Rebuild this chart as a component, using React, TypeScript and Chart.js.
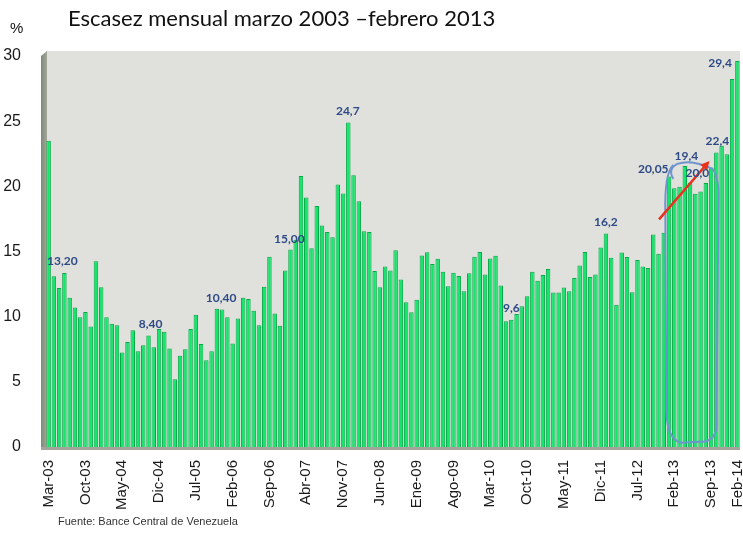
import React, { useEffect, useRef } from "react";
import { Chart, registerables } from "chart.js";

Chart.register(...registerables);

const MONTH_NAMES = ["Ene", "Feb", "Mar", "Abr", "May", "Jun", "Jul", "Ago", "Sep", "Oct", "Nov", "Dic"];
const START_YEAR = 2003;
const START_MONTH = 2; // Mar
const N_MONTHS = 132; // Mar-03 .. Feb-14

const CATEGORIES: string[] = [];
for (let i = 0; i < N_MONTHS; i++) {
  const m = (START_MONTH + i) % 12;
  const y = START_YEAR + Math.floor((START_MONTH + i) / 12);
  CATEGORIES.push(MONTH_NAMES[m] + "-" + String(y % 100).padStart(2, "0"));
}

const TICK_LABELS = [
  "Mar-03", "Oct-03", "May-04", "Dic-04", "Jul-05", "Feb-06", "Sep-06", "Abr-07", "Nov-07", "Jun-08",
  "Ene-09", "Ago-09", "Mar-10", "Oct-10", "May-11", "Dic-11", "Jul-12", "Feb-13", "Sep-13", "Feb-14",
];

const ESCASEZ = [
  23.5, 13.1, 12.2, 13.35, 11.45, 10.7, 9.95, 10.35, 9.25, 14.25,
  12.25, 9.95, 9.45, 9.35, 7.25, 8.05, 8.95, 7.35, 7.8, 8.55,
  7.65, 9.05, 8.85, 7.55, 5.2, 7.0, 7.5, 9.05, 10.15, 7.9,
  6.65, 7.35, 10.6, 10.55, 9.95, 7.95, 9.85, 11.45, 11.35, 10.45,
  9.35, 12.3, 14.6, 10.25, 9.3, 13.55, 15.15, 15.9, 20.8, 19.15,
  15.25, 18.5, 17.0, 16.5, 16.1, 20.15, 19.45, 24.9, 20.85, 18.85,
  16.55, 16.5, 13.5, 12.25, 13.85, 13.55, 15.1, 12.85, 11.1, 10.33,
  11.3, 14.7, 14.95, 14.05, 14.45, 13.45, 12.33, 13.36, 13.12, 11.95,
  13.33, 14.6, 14.97, 13.23, 14.47, 14.67, 12.4, 9.64, 9.77, 10.2,
  10.8, 11.56, 13.45, 12.75, 13.2, 13.65, 11.85, 11.85, 12.23, 11.95,
  12.97, 13.92, 14.96, 13.05, 13.23, 15.3, 16.38, 14.53, 10.92, 14.93,
  14.57, 11.88, 14.35, 13.85, 13.73, 16.3, 14.83, 16.44, 20.76, 19.86,
  19.96, 21.56, 20.28, 19.44, 19.6, 20.25, 21.44, 22.6, 23.12, 22.46,
  28.24, 29.62,
];

const Y_TICKS = [0, 5, 10, 15, 20, 25, 30];

// Annotated values (text), anchored at category index / value
const ANNOT_TEXT = ["13,20", "8,40", "10,40", "15,00", "24,7", "9,6", "16,2", "20,05", "19,4", "20,0", "22,4", "29,4"];
const ANNOT_IDX = [2.6, 19.4, 32.8, 45.8, 56.9, 88, 106, 115, 121.3, 123.4, 127.2, 127.7];
const ANNOT_VAL = [14.25, 9.46, 11.4, 15.97, 25.8, 10.67, 17.25, 21.3, 22.33, 21.05, 23.5, 29.46];

// Hand-drawn highlight (loop) and arrow, in category index / value units
const LOOP_IDX = [117.3, 127.4];
const LOOP_VAL = [21.8, 0.4];
const ARROW_IDX = [116.1, 125.7];
const ARROW_VAL = [17.46, 21.95];

const TITLE = "Escasez mensual marzo 2003 \u2013febrero 2013";
const SOURCE = "Fuente: Bance Central de Venezuela";

export default function App() {
  const ref = useRef<HTMLCanvasElement | null>(null);

  useEffect(() => {
    const canvas = ref.current;
    if (!canvas) return;

    const xAt = (chart: any, idx: number) => {
      const xs = chart.scales.x;
      const p0 = xs.getPixelForValue(0);
      const p1 = xs.getPixelForValue(1);
      return p0 + (p1 - p0) * idx;
    };
    const yAt = (chart: any, v: number) => chart.scales.y.getPixelForValue(v);

    const decor = {
      id: "decor",
      beforeDraw(chart: any) {
        const { ctx, chartArea: a } = chart;
        ctx.save();
        const top = a.top - 5;
        // plot background
        ctx.fillStyle = "#e0e0dc";
        ctx.fillRect(a.left, top, a.right - a.left, a.bottom - top);
        // left 3D wall
        const g = ctx.createLinearGradient(a.left - 5, 0, a.left + 2, 0);
        g.addColorStop(0, "#7f8a78");
        g.addColorStop(1, "#a9ad9f");
        ctx.fillStyle = g;
        ctx.beginPath();
        ctx.moveTo(a.left - 5, top + 5);
        ctx.lineTo(a.left + 1, top);
        ctx.lineTo(a.left + 1, a.bottom);
        ctx.lineTo(a.left - 5, a.bottom + 2);
        ctx.closePath();
        ctx.fill();
        // floor
        ctx.fillStyle = "#a4a49c";
        ctx.fillRect(a.left - 5, a.bottom, a.right - a.left + 5, 3);
        // title
        ctx.fillStyle = "#111";
        ctx.textBaseline = "middle";
        ctx.textAlign = "left";
        ctx.font = "22px Lato, 'Open Sans', sans-serif";
        ctx.fillText(TITLE, 68, 19);
        ctx.font = "15px 'Liberation Sans', Arial, sans-serif";
        ctx.fillText("%", 10, 29);
        ctx.font = "11px 'Liberation Sans', Arial, sans-serif";
        ctx.fillStyle = "#333";
        ctx.fillText(SOURCE, 58, 522);
        ctx.restore();
      },
      afterDatasetsDraw(chart: any) {
        const { ctx } = chart;
        ctx.save();
        // loop
        const l = xAt(chart, LOOP_IDX[0]);
        const r = xAt(chart, LOOP_IDX[1]);
        const t = yAt(chart, LOOP_VAL[0]);
        const b = yAt(chart, LOOP_VAL[1]);
        ctx.strokeStyle = "#6f95cf";
        ctx.lineWidth = 2;
        ctx.beginPath();
        ctx.moveTo(l + 8, t + 16);
        ctx.quadraticCurveTo(l + 2, t + 6, l + 12, t + 1);
        ctx.quadraticCurveTo((l + r) / 2, t - 4, r - 6, t + 6);
        ctx.quadraticCurveTo(r + 1, t + 14, r, t + 40);
        ctx.lineTo(r - 2, b - 14);
        ctx.quadraticCurveTo(r - 4, b, r - 18, b);
        ctx.lineTo(l + 16, b + 1);
        ctx.quadraticCurveTo(l + 2, b - 2, l + 1, b - 30);
        ctx.lineTo(l, t + 50);
        ctx.quadraticCurveTo(l - 1, t + 10, l + 8, t + 2);
        ctx.stroke();
        // arrow
        const x1 = xAt(chart, ARROW_IDX[0]);
        const y1 = yAt(chart, ARROW_VAL[0]);
        const x2 = xAt(chart, ARROW_IDX[1]);
        const y2 = yAt(chart, ARROW_VAL[1]);
        const ang = Math.atan2(y2 - y1, x2 - x1);
        ctx.strokeStyle = "#e8321e";
        ctx.fillStyle = "#e8321e";
        ctx.lineWidth = 2.5;
        ctx.beginPath();
        ctx.moveTo(x1, y1);
        ctx.lineTo(x2 - 6 * Math.cos(ang), y2 - 6 * Math.sin(ang));
        ctx.stroke();
        ctx.beginPath();
        ctx.moveTo(x2, y2);
        ctx.lineTo(x2 - 9 * Math.cos(ang) + 4.5 * Math.sin(ang), y2 - 9 * Math.sin(ang) - 4.5 * Math.cos(ang));
        ctx.lineTo(x2 - 9 * Math.cos(ang) - 4.5 * Math.sin(ang), y2 - 9 * Math.sin(ang) + 4.5 * Math.cos(ang));
        ctx.closePath();
        ctx.fill();
        // value annotations
        ctx.font = "bold 12px Lato, 'Open Sans', sans-serif";
        ctx.fillStyle = "#2e4a86";
        ctx.textAlign = "center";
        ctx.textBaseline = "middle";
        for (let i = 0; i < ANNOT_TEXT.length; i++) {
          ctx.fillText(ANNOT_TEXT[i], xAt(chart, ANNOT_IDX[i]), yAt(chart, ANNOT_VAL[i]));
        }
        ctx.restore();
      },
    };

    const tickSet = new Set(TICK_LABELS);

    const chart = new Chart(canvas, {
      type: "bar",
      data: {
        labels: CATEGORIES,
        datasets: [
          {
            data: ESCASEZ,
            backgroundColor: "#14e56b",
            borderColor: "#08a848",
            borderWidth: 1,
            barPercentage: 0.85,
            categoryPercentage: 1,
          },
        ],
      },
      options: {
        animation: false,
        responsive: false,
        maintainAspectRatio: false,
        layout: { padding: { top: 56, right: 3, left: 0, bottom: 0 } },
        plugins: { legend: { display: false }, tooltip: { enabled: false }, title: { display: false } },
        scales: {
          x: {
            type: "category",
            offset: true,
            grid: { display: false },
            border: { display: false },
            afterFit: (s: any) => {
              s.height = 86;
              s.paddingLeft = 0;
              s.paddingRight = 0;
            },
            ticks: {
              autoSkip: false,
              maxRotation: 90,
              minRotation: 90,
              padding: 5,
              color: "#1a1a1a",
              font: { family: "'Liberation Sans', Arial, sans-serif", size: 15 },
              callback: (_v: any, i: number) => (tickSet.has(CATEGORIES[i]) ? CATEGORIES[i] : null),
            },
          },
          y: {
            min: 0,
            max: 30,
            grid: { display: false },
            border: { display: false },
            afterFit: (s: any) => {
              s.width = 46;
              s.paddingTop = 0;
              s.paddingBottom = 0;
            },
            afterBuildTicks: (s: any) => {
              s.ticks = Y_TICKS.map((v) => ({ value: v }));
            },
            ticks: {
              padding: 17,
              color: "#1a1a1a",
              font: { family: "'Liberation Sans', Arial, sans-serif", size: 16 },
            },
          },
        },
      },
      plugins: [decor],
    });

    return () => chart.destroy();
  }, []);

  return (
    <div style={{ position: "fixed", left: 0, top: 0, width: 743, height: 533, background: "#fff" }}>
      <canvas ref={ref} width={743} height={533} style={{ width: 743, height: 533, display: "block" }} />
    </div>
  );
}
